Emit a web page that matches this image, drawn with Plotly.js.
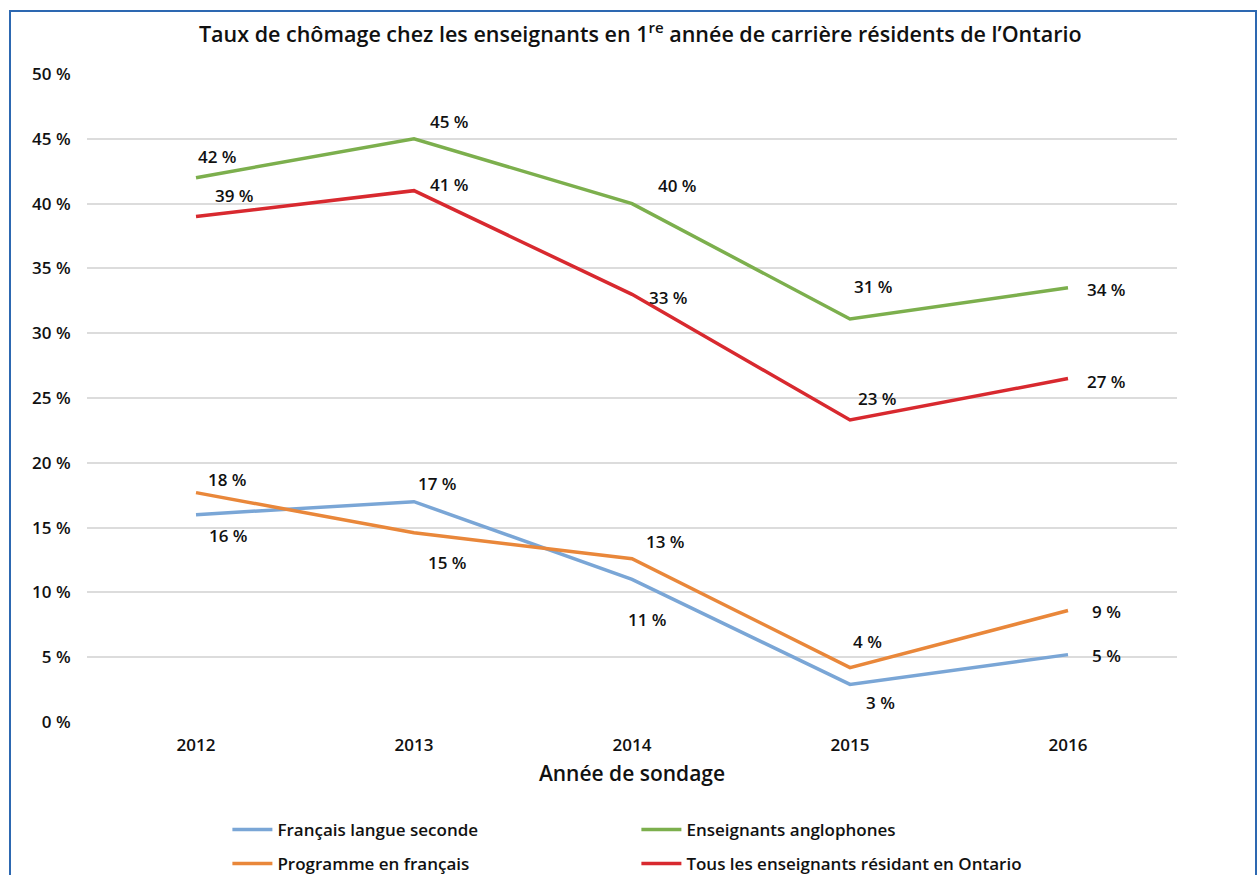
<!DOCTYPE html>
<html>
<head>
<meta charset="utf-8">
<script src="https://cdn.plot.ly/plotly-3.0.1.min.js"></script>
<style>
  html, body { margin: 0; padding: 0; background: #fff; overflow: hidden; }
  #chart { width: 1258px; height: 875px; position: absolute; left: 0; top: 0; }
  #frame { position: absolute; left: 9px; top: 10px; width: 1244px; height: 900px; border: 2px solid #2d68b1; pointer-events: none; }
</style>
</head>
<body>
<div id="chart"></div>
<div id="frame"></div>
<script>
const years = ['2012', '2013', '2014', '2015', '2016'];
const fls = [16.0, 17.0, 11.0, 2.9, 5.2];        // Français langue seconde
const angl = [42.0, 45.0, 40.0, 31.1, 33.5];     // Enseignants anglophones
const progFr = [17.7, 14.6, 12.6, 4.2, 8.6];     // Programme en français
const tous = [39.0, 41.0, 33.0, 23.3, 26.5];     // Tous les enseignants résidant en Ontario

const flsLabels = ['16 %', '17 %', '11 %', '3 %', '5 %'];
const anglLabels = ['42 %', '45 %', '40 %', '31 %', '34 %'];
const progFrLabels = ['18 %', '15 %', '13 %', '4 %', '9 %'];
const tousLabels = ['39 %', '41 %', '33 %', '23 %', '27 %'];

const yTicks = [0, 5, 10, 15, 20, 25, 30, 35, 40, 45, 50];
const yTickText = ['0 %', '5 %', '10 %', '15 %', '20 %', '25 %', '30 %', '35 %', '40 %', '45 %', '50 %'];

// label offsets (style): [xshift, yshift] per point
const flsShift = [[32, -21], [23, 18], [15, -40], [30, -18], [38, -1]];
const anglShift = [[21, 21], [35, 17], [45, 18], [23, 32], [38, -2]];
const progFrShift = [[31, 13], [33, -30], [33, 17], [17, 26], [38, -1]];
const tousShift = [[38, 21], [35, 6], [36, -3], [27, 22], [38, -3]];

const FONT = '"Open Sans", Lato, sans-serif';

const series = [
  { name: 'Français langue seconde', y: fls, labels: flsLabels, shift: flsShift, color: '#7aa6d6', legend: 'legend' },
  { name: 'Enseignants anglophones', y: angl, labels: anglLabels, shift: anglShift, color: '#7caf4d', legend: 'legend' },
  { name: 'Programme en français', y: progFr, labels: progFrLabels, shift: progFrShift, color: '#e9873a', legend: 'legend2' },
  { name: 'Tous les enseignants résidant en Ontario', y: tous, labels: tousLabels, shift: tousShift, color: '#d8292f', legend: 'legend2' }
];

const traces = series.map(s => ({
  type: 'scatter', mode: 'lines', x: years, y: s.y, name: s.name,
  line: { color: s.color, width: 3.5 }, legend: s.legend
}));

const annotations = [];
series.forEach(s => {
  s.y.forEach((v, i) => {
    annotations.push({
      x: i, y: v, xref: 'x', yref: 'y', text: s.labels[i], showarrow: false,
      xanchor: 'center', yanchor: 'middle', xshift: s.shift[i][0], yshift: s.shift[i][1],
      font: { family: FONT, size: 17, weight: 600, color: '#111' }
    });
  });
});

const legendFont = { family: FONT, size: 17, weight: 600, color: '#111' };

const layout = {
  width: 1258, height: 875,
  margin: { l: 87, r: 81, t: 74, b: 153 },
  paper_bgcolor: '#fff', plot_bgcolor: '#fff',
  title: { text: 'Taux de chômage chez les enseignants en 1<sup>re</sup> année de carrière résidents de l\u2019Ontario',
           x: 0.509, xanchor: 'center', y: 0.961, yanchor: 'middle',
           font: { family: FONT, size: 21.5, weight: 600, color: '#111' } },
  xaxis: {
    type: 'category', range: [-0.5, 4.5],
    showgrid: false, zeroline: false, showline: false,
    ticks: 'outside', ticklen: 8, tickcolor: 'rgba(0,0,0,0)',
    tickfont: { family: FONT, size: 17, weight: 600, color: '#111' },
    title: { text: 'Année de sondage', font: { family: FONT, size: 21, weight: 600, color: '#111' }, standoff: 10 }
  },
  yaxis: {
    range: [0, 50], tickmode: 'array', tickvals: yTicks, ticktext: yTickText,
    showgrid: true, gridcolor: '#dcdcdc', gridwidth: 1.5,
    zeroline: false, showline: false,
    ticks: 'outside', ticklen: 12, tickcolor: 'rgba(0,0,0,0)',
    tickfont: { family: FONT, size: 17, weight: 600, color: '#111' }
  },
  showlegend: true,
  legend: { orientation: 'h', x: 0.1288, xanchor: 'left', yref: 'container', y: 0.0514, yanchor: 'middle',
            entrywidth: 354, entrywidthmode: 'pixels', itemwidth: 40,
            font: legendFont, bgcolor: 'rgba(0,0,0,0)' },
  legend2: { orientation: 'h', x: 0.1288, xanchor: 'left', yref: 'container', y: 0.0126, yanchor: 'middle',
             entrywidth: 354, entrywidthmode: 'pixels', itemwidth: 40,
             font: legendFont, bgcolor: 'rgba(0,0,0,0)' },
  annotations: annotations
};

Plotly.newPlot('chart', traces, layout, { displayModeBar: false });
</script>
</body>
</html>
